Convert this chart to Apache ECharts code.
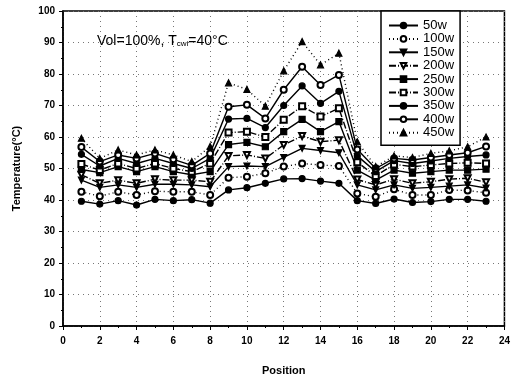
<!DOCTYPE html>
<html>
<head>
<meta charset="utf-8">
<script src="https://cdn.jsdelivr.net/npm/echarts@6/dist/echarts.min.js"></script>
<style>
  html, body { margin: 0; padding: 0; background: #fff; }
  #chart { width: 513px; height: 382px; }
</style>
</head>
<body>
<div id="chart"></div>
<script>
// positions 1..23
const positions = [1, 2, 3, 4, 5, 6, 7, 8, 9, 10, 11, 12, 13, 14, 15, 16, 17, 18, 19, 20, 21, 22, 23]
const seriesNames = ['50w', '100w', '150w', '200w', '250w', '300w', '350w', '400w', '450w']

const s50 = [39.6, 38.7, 39.8, 38.4, 40.2, 39.8, 40.1, 39, 43.2, 43.9, 45.3, 46.7, 46.8, 46, 45.3, 39.8, 38.9, 40.3, 39.2, 39.5, 40.2, 40.2, 39.6]
const s100 = [42.6, 41.2, 42.6, 41.6, 42.8, 42.6, 42.6, 41.6, 47.1, 47.4, 48.5, 50.6, 51.6, 51.1, 50.8, 42.1, 41, 43.4, 41.6, 41.6, 43.2, 43, 42.3]
const s150 = [46.3, 44, 44.8, 44, 45, 45, 44.8, 44.2, 50.6, 50.8, 50.6, 53.5, 56.4, 55.7, 55, 44.8, 43.2, 44.8, 43.7, 44, 44.4, 44.8, 43.8]
const s200 = [48, 45.3, 46.3, 45.3, 46.6, 46.3, 46.3, 45.8, 54, 54.3, 53.2, 57.5, 60.3, 58.5, 59, 46.5, 44.8, 46.6, 45.3, 45.8, 46.6, 46.9, 45.6]
const s250 = [49.7, 48.7, 50.6, 49, 50.6, 49, 48, 49, 57.6, 58.3, 56.9, 61.7, 65.6, 61.7, 64.9, 49.5, 46.3, 49.5, 48.5, 49, 49.5, 49.5, 49.8]
const s300 = [51.4, 49.5, 51.6, 50, 51.6, 50, 49, 51.6, 61.4, 61.7, 60, 65.5, 69.8, 66.5, 69.1, 52, 47.6, 51.3, 50.6, 51.1, 51.6, 51.8, 51.6]
const s350 = [54.5, 50.8, 53.2, 51.6, 53.2, 51.6, 50, 53.2, 65.7, 65.9, 63, 70, 76.2, 70.7, 74.5, 54, 49, 52.5, 51.6, 52.4, 53.2, 53.8, 54.3]
const s400 = [56.8, 52.2, 54.3, 53.2, 54.8, 52.9, 51, 54.8, 69.6, 70.2, 65.9, 75, 82.3, 76.5, 79.7, 56, 50, 53.2, 52.7, 53.5, 54.3, 55, 57]
const s450 = [59.6, 53.2, 55.9, 54.3, 55.9, 54.3, 52.2, 57, 77.2, 75.1, 69.8, 81, 90.3, 82.9, 86.6, 58.5, 50.6, 54, 53.5, 54.8, 55.6, 56.9, 60]

const allValues = [s50, s100, s150, s200, s250, s300, s350, s400, s450]
const symbols = ['circle', 'emptyCircle', 'triangle', 'emptyTriangle', 'rect', 'emptyRect', 'circle', 'emptyCircle', 'triangle']
const lineTypes = ['solid', [1, 3], 'solid', [7, 2, 1, 2], 'solid', [7, 2, 1, 2], 'solid', 'solid', [1, 3]]
const downTri = [false, false, true, true, false, false, false, false, false]

const chart = echarts.init(document.getElementById('chart'), null, { renderer: 'canvas' })

const font = 'Arial, "Liberation Sans", sans-serif'

const series = seriesNames.map((name, i) => ({
  name,
  type: 'line',
  data: positions.map((p, j) => [p, allValues[i][j]]),
  symbol: symbols[i],
  symbolSize: 6,
  symbolRotate: downTri[i] ? 180 : 0,
  showSymbol: true,
  itemStyle: { color: '#000', borderColor: '#000', borderWidth: 1.2 },
  lineStyle: { color: '#000', width: 1.4, type: lineTypes[i] },
  emphasis: { disabled: true },
  z: 3,
}))

const option = {
  animation: false,
  backgroundColor: '#fff',
  textStyle: { fontFamily: font },
  grid: { left: 63, right: 5, top: 11, bottom: 56, show: true, borderColor: '#000', borderWidth: 1.5, backgroundColor: 'transparent' },
  legend: {
    data: seriesNames,
    orient: 'vertical',
    left: 381,
    top: 11,
    padding: [8, 6, 6, 7],
    itemWidth: 29,
    itemHeight: 7,
    itemGap: 0.4,
    backgroundColor: '#fff',
    borderColor: '#000',
    borderWidth: 1.5,
    textStyle: { fontFamily: font, fontSize: 13, lineHeight: 12, color: '#000' },
  },
  xAxis: {
    type: 'value',
    min: 0,
    max: 24,
    interval: 2,
    axisLine: { show: true, lineStyle: { color: '#000', width: 1.5 } },
    axisTick: { show: true, length: 4, lineStyle: { color: '#000', width: 1 } },
    minorTick: { show: true, splitNumber: 2, length: 2, lineStyle: { color: '#000' } },
    axisLabel: { color: '#000', fontSize: 10, fontWeight: 'bold', margin: 10, fontFamily: font },
    splitLine: { show: true, lineStyle: { color: '#777', width: 1, type: [1, 4] } },
    name: 'Position',
    nameLocation: 'middle',
    nameGap: 39,
    nameTextStyle: { color: '#000', fontSize: 11, fontWeight: 'bold', fontFamily: font },
  },
  yAxis: {
    type: 'value',
    min: 0,
    max: 100,
    interval: 10,
    axisLine: { show: true, lineStyle: { color: '#000', width: 1.5 } },
    axisTick: { show: true, length: 4, lineStyle: { color: '#000', width: 1 } },
    minorTick: { show: true, splitNumber: 2, length: 2, lineStyle: { color: '#000' } },
    axisLabel: { color: '#000', fontSize: 10, fontWeight: 'bold', margin: 8, fontFamily: font },
    splitLine: { show: true, lineStyle: { color: '#777', width: 1, type: [1, 4] } },
    name: 'Temperature(°C)',
    nameLocation: 'middle',
    nameGap: 41,
    nameRotate: 90,
    nameTextStyle: { color: '#000', fontSize: 11, fontWeight: 'bold', fontFamily: font },
  },
  graphic: [{
    type: 'text',
    left: 97,
    top: 34,
    style: {
      text: '{a|Vol=100%, T}{s|cwi}{a|=40°C}',
      rich: {
        a: { fontSize: 14, fontFamily: font, fill: '#000' },
        s: { fontSize: 8, fontFamily: font, fill: '#000', verticalAlign: 'bottom', padding: [6, 0, 0, 0] },
      },
    },
    z: 10,
  }],
  series,
}

chart.setOption(option)
</script>
</body>
</html>
